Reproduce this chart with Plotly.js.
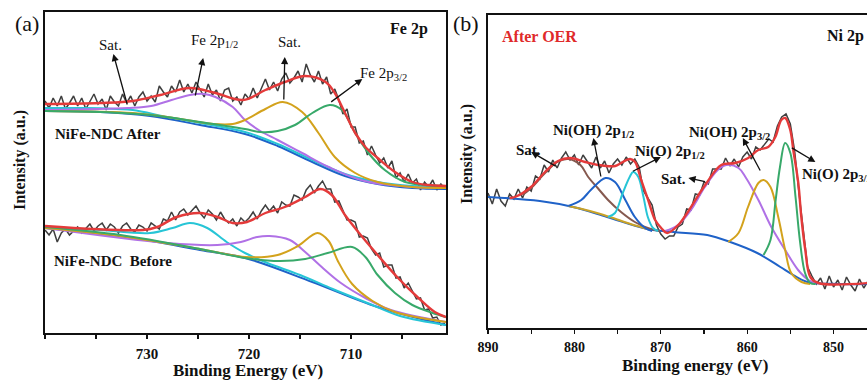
<!DOCTYPE html>
<html><head><meta charset="utf-8">
<script src="https://cdn.plot.ly/plotly-3.0.1.min.js"></script>
<style>html,body{margin:0;padding:0;overflow:hidden;background:#fff}#chart{width:900px;height:383px}</style>
</head><body><div id="chart"></div>
<script>
// ---------- Panel (a): Fe 2p (binding energy, eV) ----------
const energyA = [740,739.6,739.2,738.8,738.4,738,737.6,737.2,736.8,736.4,736,735.6,735.2,734.8,734.4,734,733.6,733.2,732.8,732.4,732,731.6,731.2,730.8,730.4,730,729.6,729.2,728.8,728.4,728,727.6,727.2,726.8,726.4,726,725.6,725.2,724.8,724.4,724,723.6,723.2,722.8,722.4,722,721.6,721.2,720.8,720.4,720,719.6,719.2,718.8,718.4,718,717.6,717.2,716.8,716.4,716,715.6,715.2,714.8,714.4,714,713.6,713.2,712.8,712.4,712,711.6,711.2,710.8,710.4,710,709.6,709.2,708.8,708.4,708,707.6,707.2,706.8,706.4,706,705.6,705.2,704.8,704.4,704,703.6,703.2,702.8,702.4,702,701.6,701.2,700.8];
const afterRaw = [232,225,235,227,237,224,230,237,227,235,224,232,239,229,234,223,237,231,227,239,230,237,227,236,241,232,237,231,247,241,236,247,241,253,241,249,240,251,244,236,249,238,243,232,243,245,232,236,228,239,234,245,235,244,254,243,251,242,254,260,250,255,262,251,269,258,251,262,249,256,239,244,233,219,224,206,206,190,192,178,187,178,170,175,165,172,155,160,151,159,150,154,143,151,146,153,143,149,144];
const beforeRaw = [103,98,104,91,100,104,98,102,106,100,105,109,102,107,110,103,109,106,100,107,110,104,101,108,106,102,110,107,104,114,112,121,113,121,124,118,122,127,120,115,123,119,113,121,114,110,114,107,115,111,115,121,114,122,128,122,127,120,131,128,127,138,136,133,143,148,140,147,152,144,144,131,132,122,113,113,111,96,97,95,84,78,80,66,68,68,55,56,45,50,42,34,35,23,24,15,16,8,10];
const tickLabelsA = [730, 720, 710];

// After: fitted envelope and components
const fitAfterE = [740,734.6,731.4,728.7,725.8,723.3,720.6,718.4,716.5,714.5,712.5,711.6,710.6,709.6,708.6,707.4,705.7,704,702.5,700.7];
const fitAfterY = [229,230,232,238,245,240,233,243,251,257,251,240,220,200,186,175,161,151,148,147];
const bgAfterE = [740,734.6,729.7,724.8,720.4,717.2,713.8,710.6,707.4,704,700.7];
const bgAfterY = [222,221,217,208,199,187,171,157,149,145,144];
const cyanAfterE = [740,736,733,731.4,728,724.8,720.4,717.2,713.8,710.6,707.4,704,700.7];
const cyanAfterY = [225,225,224,223,216,210,201,189,173,159,151,147,146];
const purpleAfterE = [740,731.9,729.6,727.6,725.8,724.4,723.3,721.6,720.4,718.9,717.2,714.8,712.2,708.7,704,700.7];
const purpleAfterY = [223,225,227,233,238,239,236,226,213,202,193,180,166,152,146,145];
const yellowAfterE = [740,731.4,728,723.5,721.6,720.4,718.4,716.7,714.8,713.2,711.6,709.6,707.4,704,700.7];
const yellowAfterY = [222,220,216,209,209,213,224,231,221,200,176,160,151,146,145];
const greenAfterE = [740,734.6,729.7,724.8,720.4,718.9,717.2,715.5,713.8,712.1,710.9,709.6,708.3,706.7,704.7,700.7];
const greenAfterY = [222,221,218,211,204,201,202,208,220,228,223,200,180,163,151,147];

// Before: fitted envelope and components
const fitBeforeE = [740,730.4,729,727.1,724.8,723.1,721.6,720.2,718.4,716.5,714.5,713,711.9,710.6,709.3,707.4,705.4,703.4,701.8,700.7];
const fitBeforeY = [107,103,106,116,120,116,110,111,120,126,136,144,138,118,101,78,55,35,21,16];
const bgBeforeE = [740,731.4,724.8,720.4,713.8,707.4,700.7];
const bgBeforeY = [105,95,83,75,51,26,8];
const cyanBeforeE = [740,734.6,729.7,727.5,725.8,724.1,722.2,720.4,718.2,715,711.8,708.4,705.2,700.7];
const cyanBeforeY = [106,103,100,105,110,105,91,80,70,58,44,30,17,8];
const purpleBeforeE = [740,728,723.1,720.8,719.2,718,716,714.5,713.1,711,708.6,706.1,700.7];
const purpleBeforeY = [105,90,88,91,96,97,93,81,68,50,35,23,11];
const yellowBeforeE = [740,732.6,724.8,720.4,717.2,715.2,713.3,712.2,711.3,709.9,707.9,705.7,700.7];
const yellowBeforeY = [105,97,84,76,78,87,100,92,72,49,32,21,11];
const greenBeforeE = [740,732.6,724.8,720.4,717,714.5,712.3,709.9,708.6,707.4,705.7,704,702,700.7];
const greenBeforeY = [106,98,84,75,72,74,80,86,76,58,40,28,20,16];

// ---------- Panel (b): Ni 2p after OER ----------
const energyB = [890,889.5,889,888.5,888,887.5,887,886.5,886,885.5,885,884.5,884,883.5,883,882.5,882,881.5,881,880.5,880,879.5,879,878.5,878,877.5,877,876.5,876,875.5,875,874.5,874,873.5,873,872.5,872,871.5,871,870.5,870,869.5,869,868.5,868,867.5,867,866.5,866,865.5,865,864.5,864,863.5,863,862.5,862,861.5,861,860.5,860,859.5,859,858.5,858,857.5,857,856.5,856,855.5,855,854.5,854,853.5,853,852.5,852,851.5,851,850.5,850,849.5,849,848.5,848,847.5,847,846.5,846];
const niRaw = [135,124,139,127,122,134,129,139,130,141,137,152,149,163,156,168,160,170,176,168,173,163,173,166,160,171,160,167,155,164,169,163,171,164,169,161,137,130,123,103,94,89,92,92,101,104,119,118,134,133,146,144,159,159,159,170,162,169,161,171,176,169,181,178,184,189,186,202,211,214,204,177,135,97,61,52,44,50,39,52,41,48,38,51,43,37,49,40,47];
const tickLabelsB = [890, 880, 870, 860, 850];
const fitNiE = [887.5,886.87,885.02,883.4,881.89,880.5,878.76,877.25,875.28,874.59,873.55,872.97,872.27,871.46,870.65,869.95,869.26,867.98,864.86,863,861.38,859.87,858.71,857.56,856.74,856.05,855.59,855.01,854.66,854.08,853.73,853.27,852.69,851.76,846];
const fitNiY = [130,131,141,156,167,170,166,163,162,165,169,166,148,128,108,100,95,103,143,163,165,170,178,181,191,208,210,198,178,145,111,78,51,45,45];
const bgNiE = [890,884,880.15,876.21,871.58,868.56,864.62,861.96,858.83,856.16,854.66,853.04,849.21,845];
const bgNiY = [131,127,121,111,99,96,93,86,75,61,53,46,44,44];
const oliveNiE = [880.7,878.2,875.9,873.5,871.1];
const oliveNiY = [122,117,111,104,98];
const satLowE = [886,885,883.4,882,880.7,879.3,878.4,877.3,876.1,874.6,873,871.5,870.1];
const satLowY = [133,140,155,166,169,163,151,140,128,116,106,100,97];
const nioh12E = [880.7,879.2,878.1,876.4,875.3,874.1,873,871.8,871];
const nioh12Y = [122,128,138,150,146,128,111,100,97];
const nio12E = [876.1,875.3,874.4,873.6,873.2,872.6,872,871.5,870.9,870.3];
const nio12Y = [111,115,135,151,156,151,131,111,100,97];
const satHighE = [869.5,868,866.5,864.9,863.4,862.4,861,860.2,858.7,857.2,855.6,854.1,852.9,852.1];
const satHighY = [97,103,118,141,158,163,160,151,128,101,78,58,48,45];
const nioh32E = [862.2,861,859.9,858.7,858.1,857.3,856.4,855.6,854.9,853.7,852.7];
const nioh32Y = [86,95,121,145,148,141,111,78,55,46,44];
const nio32E = [858.1,857.3,856.7,856.2,855.6,855,854.4,853.9,853.3,852.7,852.1];
const nio32Y = [73,88,128,161,185,175,131,88,55,45,44];

// ---------- styling ----------
const W = 900, H = 383;
const SERIF = 'Liberation Serif, Times New Roman, serif';
const C = {raw:'#3f3f3f', fit:'#e43a3a', purple:'#b071e6', yellow:'#d3a21c', green:'#38a96a',
           cyan:'#27c5d6', blue:'#1f62c8', brown:'#85594f', olive:'#c9a227'};

function raw(x, y, ax) {
  return {x, y, xaxis: ax[0], yaxis: ax[1], mode:'lines', line:{color:C.raw, width:1.5}, hoverinfo:'skip'};
}
function smooth(x, y, color, ax, w) {
  return {x, y, xaxis: ax[0], yaxis: ax[1], mode:'lines', line:{color, width:w||2, shape:'spline', smoothing:1}, hoverinfo:'skip'};
}
const A = ['x','y'], B = ['x2','y2'];
const traces = [
  raw(energyA, afterRaw, A), raw(energyA, beforeRaw, A),
  smooth(bgAfterE, bgAfterY, C.blue, A), smooth(cyanAfterE, cyanAfterY, C.cyan, A),
  smooth(purpleAfterE, purpleAfterY, C.purple, A), smooth(yellowAfterE, yellowAfterY, C.yellow, A),
  smooth(greenAfterE, greenAfterY, C.green, A), smooth(fitAfterE, fitAfterY, C.fit, A, 2.4),
  smooth(bgBeforeE, bgBeforeY, C.blue, A), smooth(cyanBeforeE, cyanBeforeY, C.cyan, A),
  smooth(purpleBeforeE, purpleBeforeY, C.purple, A), smooth(yellowBeforeE, yellowBeforeY, C.yellow, A),
  smooth(greenBeforeE, greenBeforeY, C.green, A), smooth(fitBeforeE, fitBeforeY, C.fit, A, 2.4),
  raw(energyB, niRaw, B),
  smooth(bgNiE, bgNiY, C.blue, B), smooth(oliveNiE, oliveNiY, C.olive, B),
  smooth(satLowE, satLowY, C.brown, B), smooth(nioh12E, nioh12Y, C.blue, B),
  smooth(nio12E, nio12Y, C.cyan, B), smooth(satHighE, satHighY, C.purple, B),
  smooth(nioh32E, nioh32Y, C.yellow, B), smooth(nio32E, nio32Y, C.green, B),
  smooth(fitNiE, fitNiY, C.fit, B, 2.4)
];

const px = v => v / W, py = v => 1 - v / H;
function label(text, x, y, size, opts) {
  return Object.assign({text, xref:'paper', yref:'paper', x:px(x), y:py(y), xanchor:'center', yanchor:'middle',
    showarrow:false, font:{family:SERIF, size, color:'#111'}}, opts || {});
}
function boldFont(size, color) { return {family:SERIF, size, color:color || '#111', weight:'bold'}; }
function arrow(ax, ay, x, y, panel) {
  const xr = panel === 'a' ? 'x' : 'x2', yr = panel === 'a' ? 'y' : 'y2';
  return {text:'', x, y, ax, ay, xref:xr, yref:yr, axref:xr, ayref:yr, showarrow:true,
    arrowhead:2, arrowsize:1.1, arrowwidth:1.3, arrowcolor:'#111', standoff:0, startstandoff:0};
}
const annotations = [
  label('(a)', 27, 24, 22),
  label('(b)', 466, 24, 22),
  label('Fe 2p', 409, 29, 16, {font:boldFont(16)}),
  label('Sat.', 110, 45, 15),
  label('Fe 2p<sub>1/2</sub>', 214, 41, 15),
  label('Sat.', 289, 42, 15),
  label('Fe 2p<sub>3/2</sub>', 383, 74, 15),
  label('NiFe-NDC After', 53, 134, 15, {xanchor:'left', font:boldFont(15)}),
  label('NiFe-NDC\u00a0 Before', 52, 261, 15, {xanchor:'left', font:boldFont(15)}),
  label('Binding Energy (eV)', 248, 370, 17, {font:boldFont(17)}),
  label('Intensity (a.u.)', 20, 160, 16, {textangle:-90, font:boldFont(16)}),
  label('After OER', 500, 36, 16, {xanchor:'left', font:boldFont(16, '#e02a2a')}),
  label('Ni 2p', 825, 36, 16, {xanchor:'left', font:boldFont(16)}),
  label('Sat.', 528, 150, 15, {font:boldFont(15)}),
  label('Ni(OH) 2p<sub>1/2</sub>', 593, 131, 15, {font:boldFont(15)}),
  label('Ni(O) 2p<sub>1/2</sub>', 670, 152, 15, {font:boldFont(15)}),
  label('Sat.', 673, 179, 15, {font:boldFont(15)}),
  label('Ni(OH) 2p<sub>3/2</sub>', 729, 133, 15, {font:boldFont(15)}),
  label('Ni(O) 2p<sub>3/2</sub>', 800, 175, 15, {xanchor:'left', font:boldFont(15)}),
  label('Binding energy (eV)', 695, 365, 17, {font:boldFont(17)}),
  label('Intensity (a.u.)', 467, 154, 16, {textangle:-90, font:boldFont(16)}),
  arrow(731.9, 227, 733.3, 279, 'a'),
  arrow(725.3, 236, 724.5, 275, 'a'),
  arrow(716.6, 232, 716.5, 276, 'a'),
  arrow(712.1, 230, 708.9, 254, 'a'),
  arrow(882.0, 161, 885.0, 176, 'b'),
  arrow(876.9, 150, 877.8, 190, 'b'),
  arrow(873.4, 156, 870.0, 171, 'b'),
  arrow(864.7, 146, 866.8, 150, 'b'),
  arrow(858.4, 156, 860.5, 190, 'b'),
  arrow(855.0, 181, 852.1, 166, 'b')
];

const xBase = {showline:true, mirror:true, linecolor:'#111', linewidth:1.6, ticks:'outside', ticklen:4, tickwidth:1.3,
  tickcolor:'#111', showgrid:false, zeroline:false, ticklabelstandoff:2,
  minor:{dtick:5, tick0:0, ticks:'outside', ticklen:4, tickwidth:1.3, tickcolor:'#111', showgrid:false},
  tickfont:boldFont(15)};
const yBase = {showline:true, mirror:true, linecolor:'#111', linewidth:1.6, ticks:'', showticklabels:false,
  showgrid:false, zeroline:false};

const layout = {
  width:W, height:H, margin:{l:0, r:0, t:0, b:0}, showlegend:false,
  paper_bgcolor:'#fff', plot_bgcolor:'#fff',
  xaxis: Object.assign({}, xBase, {domain:[px(45), px(446)], range:[740, 700.7], anchor:'y',
    tickmode:'array', tickvals:tickLabelsA, ticktext:tickLabelsA.map(String)}),
  yaxis: Object.assign({}, yBase, {domain:[py(333), py(12)], range:[0, 321], anchor:'x'}),
  xaxis2: Object.assign({}, xBase, {domain:[px(488), px(875)], range:[890, 845.2], anchor:'y2',
    tickmode:'array', tickvals:tickLabelsB, ticktext:tickLabelsB.map(String), tickfont:boldFont(14)}),
  yaxis2: Object.assign({}, yBase, {domain:[py(328), py(15)], range:[0, 313], anchor:'x2'}),
  annotations
};
Plotly.newPlot('chart', traces, layout, {staticPlot:true, displayModeBar:false});
</script></body></html>
